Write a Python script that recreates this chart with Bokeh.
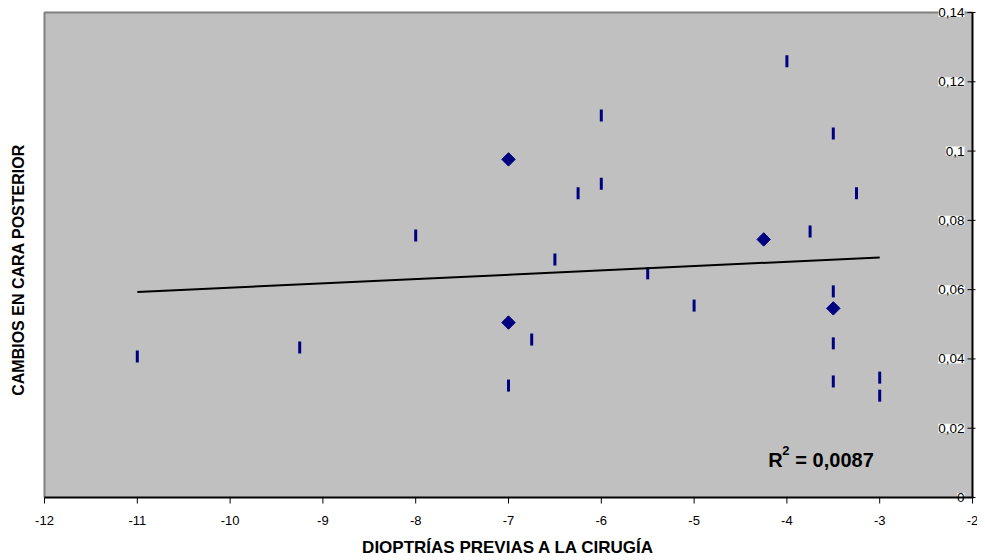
import math
from bokeh.plotting import figure
from bokeh.models import Range1d, ColumnDataSource
from bokeh.core.properties import value
from bokeh.embed import file_html
from bokeh.resources import INLINE

# ---- data ----
dash_x = [-11, -9.25, -8, -7, -6.75, -6.5, -6.25, -6, -6, -5.5, -5, -4, -3.75,
          -3.5, -3.5, -3.5, -3.5, -3.25, -3, -3]
dash_y = [0.0407, 0.0433, 0.0756, 0.0323, 0.0456, 0.0687, 0.0878, 0.1103, 0.0906,
          0.0647, 0.0554, 0.1259, 0.0768, 0.1051, 0.0595, 0.0445, 0.0335, 0.0878,
          0.0346, 0.0294]
diamond_x = [-7, -7, -4.25, -3.5]
diamond_y = [0.0976, 0.0505, 0.0745, 0.0546]
trend_x = [-11, -3]
trend_y = [0.0593, 0.0693]
x_ticks = [-12, -11, -10, -9, -8, -7, -6, -5, -4, -3, -2]
x_tick_labels = ["-12", "-11", "-10", "-9", "-8", "-7", "-6", "-5", "-4", "-3", "-2"]
y_ticks = [0, 0.02, 0.04, 0.06, 0.08, 0.10, 0.12, 0.14]
y_tick_labels = ["0", "0,02", "0,04", "0,06", "0,08", "0,1", "0,12", "0,14"]
r2_value = "0,0087"
x_title = "DIOPTRÍAS PREVIAS A LA CIRUGÍA"
y_title = "CAMBIOS EN CARA POSTERIOR"

FONT = "Liberation Sans"
NAVY = "#000080"
X0, X1 = -12, -2          # plot-area data limits
Y0, Y1 = 0, 0.14

# ---- layout in pixels (canvas) ----
W, H = 977, 558
FL, FR, FT, FB = 44, 972, 12, 497
PX_X = (FR - FL) / (X1 - X0)
PX_Y = (FB - FT) / (Y1 - Y0)
xr = Range1d(X0 - FL / PX_X, X1 + (W - FR) / PX_X)
yr = Range1d(Y0 - (H - FB) / PX_Y, Y1 + FT / PX_Y)

p = figure(width=W, height=H, x_range=xr, y_range=yr,
           x_axis_type=None, y_axis_type=None, output_backend="svg",
           toolbar_location=None, min_border=0, min_border_left=0,
           min_border_right=0, min_border_top=0, min_border_bottom=0,
           background_fill_color="white", border_fill_color="white",
           outline_line_color=None)
p.grid.visible = False

# plot area
p.quad(left=[X0], right=[X1], bottom=[Y0], top=[Y1], fill_color="#C0C0C0",
       line_color=None)
# grey top / left border
p.line([X0, X0, X1], [Y0, Y1, Y1], line_color="#808080", line_width=2)

# y tick labels (inside, white boxes)
ysrc = ColumnDataSource(dict(x=[X1] * len(y_ticks), y=y_ticks, t=y_tick_labels))
p.text(x="x", y="y", text="t", source=ysrc, x_offset=-8,
       text_align="right", text_baseline="middle",
       text_font=value(FONT), text_font_size="13.5px", text_color="black",
       background_fill_color="white")

# markers
p.rect(dash_x, dash_y, width=3, height=12, width_units="screen",
       height_units="screen", fill_color=NAVY, line_color=None)
p.scatter(diamond_x, diamond_y, marker="square", size=9.5, angle=math.pi / 4,
          fill_color=NAVY, line_color=NAVY)

# trend line
p.line(trend_x, trend_y, line_color="black", line_width=2)

# axes: lines and ticks
p.line([X0, X1 + 1 / PX_X], [Y0, Y0], line_color="black", line_width=2)
p.line([X1, X1], [Y0, Y1], line_color="black", line_width=2)
p.segment(x0=x_ticks, x1=x_ticks, y0=[Y0] * len(x_ticks),
          y1=[Y0 - 6 / PX_Y] * len(x_ticks), line_color="black", line_width=1)
p.segment(x0=[X1 - 5 / PX_X] * len(y_ticks), x1=[X1 + 3 / PX_X] * len(y_ticks),
          y0=y_ticks, y1=y_ticks, line_color="black", line_width=1)

# x tick labels
xsrc = ColumnDataSource(dict(x=x_ticks, y=[Y0] * len(x_ticks), t=x_tick_labels))
p.text(x="x", y="y", text="t", source=xsrc, y_offset=23,
       text_align="center", text_baseline="middle",
       text_font=value(FONT), text_font_size="13px", text_color="black")

# R^2 annotation
rx, ry = -4.2, 0.0107
p.text(x=[rx], y=[ry], text=["R"], text_font=value(FONT), text_font_style="bold",
       text_font_size="20px", text_baseline="alphabetic", text_color="black")
p.text(x=[rx], y=[ry], x_offset=14, y_offset=-10, text=["2"], text_font=value(FONT),
       text_font_style="bold", text_font_size="13px", text_baseline="alphabetic",
       text_color="black")
p.text(x=[rx], y=[ry], x_offset=27, text=["= " + r2_value], text_font=value(FONT),
       text_font_style="bold", text_font_size="20px", text_baseline="alphabetic",
       text_color="black")

# axis titles
p.text(x=[(X0 + X1) / 2], y=[Y0], y_offset=50, text=[x_title], text_font=value(FONT),
       text_font_style="bold", text_font_size="17px", text_align="center",
       text_baseline="middle", text_color="black")
p.text(x=[X0], y=[(Y0 + Y1) / 2], x_offset=-26, y_offset=15, angle=math.pi / 2,
       text=[y_title], text_font=value(FONT), text_font_style="bold",
       text_font_size="16px", text_align="center", text_baseline="middle",
       text_color="black")

open("out.html", "w").write(file_html(p, INLINE))
